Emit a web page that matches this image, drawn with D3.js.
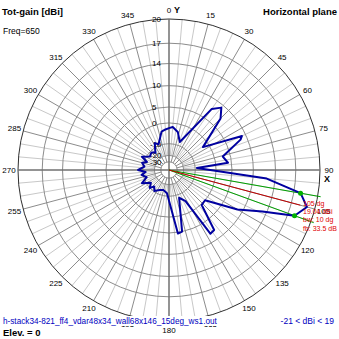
<!DOCTYPE html>
<html><head><meta charset="utf-8">
<script src="https://cdn.jsdelivr.net/npm/d3@7"></script>
<style>body{margin:0;background:#fff}svg{display:block;font-family:Arial,"Liberation Sans",sans-serif}</style>
</head><body><svg id="c" width="339" height="339"></svg>
<script>
// ---- data ----
const patternAngles = [0,5,13,21,35,40,45,56,65,67,76,83,86,95,100,105,110,114,120,130,137,143,147,152,160,168,172,178,185,195,205,215,222,227,235,244,252,260,265,270,278,285,290,296,305,315,322,332,338,349,355];
const patternGains  = [-2,-1.5,-3.2,-7.7,7.9,9.4,7.5,-2.4,9.2,8.6,2.8,4.0,-8.9,12.6,17.9,19.04,17.9,13.3,8.9,0,0.3,8,8.2,-5,-8,5,5.3,-5,-12,-14,-13,-10.5,-13,-10,-13,-7.7,-12,-9,-12,-7.2,-11,-9,-12,-7.7,-12,-11,-13,-7.5,-9,-3.2,-2.5];
const ringValues = [20,17,14,10,5,0,-10,-20,-30];
const angleTicks = d3.range(0,360,15);
const minorTicks = d3.range(0,360,5);
const maxDir = 105;
const bwDirs = [100,110];
const infoLines = ["105 dg","19.04 dBi","bw: 10 dg","fb: 33.5 dB"];
const titleLeft = "Tot-gain [dBi]", freqText = "Freq=650", titleRight = "Horizontal plane";
const fileText = "h-stack34-821_ff4_vdar48x34_wall68x146_15deg_ws1.out";
const rangeText = "-21 < dBi < 19", elevText = "Elev. = 0";

// ---- layout ----
const cx = 169, cy = 170, R = 151;
const lin = d3.scaleLinear().domain([0,1]).range([0,R]);
const r = dB => lin(Math.pow(0.89,(20-dB)/2));   // ARRL log scale
const rad = d => d*Math.PI/180;

const svg = d3.select("#c");
const g = svg.append("g").attr("transform",`translate(${cx},${cy})`);

// minor radials
g.selectAll("line.minor").data(minorTicks.filter(a=>a%15!==0)).join("line")
  .attr("x1",a=>r(-20)*Math.sin(rad(a))).attr("y1",a=>-r(-20)*Math.cos(rad(a)))
  .attr("x2",a=>R*Math.sin(rad(a))).attr("y2",a=>-R*Math.cos(rad(a)))
  .attr("stroke","#c8c8c8").attr("stroke-width",1);
// major radials
g.selectAll("line.major").data(angleTicks.filter(a=>a%90!==0)).join("line")
  .attr("x1",a=>r(-30)*Math.sin(rad(a))).attr("y1",a=>-r(-30)*Math.cos(rad(a)))
  .attr("x2",a=>R*Math.sin(rad(a))).attr("y2",a=>-R*Math.cos(rad(a)))
  .attr("stroke","#8c8c8c").attr("stroke-width",1);
// rings
g.selectAll("circle.ring").data(ringValues).join("circle")
  .attr("r",d=>r(d)).attr("fill","none")
  .attr("stroke",d=>d===20?"#303030":"#8c8c8c").attr("stroke-width",1);
// axes
g.append("line").attr("x1",-R).attr("x2",R).attr("y1",0).attr("y2",0).attr("stroke","#707070").attr("stroke-width",1.5);
g.append("line").attr("y1",-R).attr("y2",R).attr("x1",0).attr("x2",0).attr("stroke","#707070").attr("stroke-width",1.5);

// ring labels
g.selectAll("text.rl").data(ringValues).join("text")
  .attr("x",d=>d<0?-19:-17).attr("y",d=>-r(d)).attr("dy","0.35em")
  .attr("font-size",8).attr("fill","#000").text(d=>d);

// angle labels
g.selectAll("text.al").data(angleTicks).join("text")
  .attr("x",a=>160*Math.sin(rad(a))).attr("y",a=>-160*Math.cos(rad(a)))
  .attr("dy","0.35em").attr("text-anchor","middle").attr("font-size",8).text(a=>a);
g.append("text").attr("x",5).attr("y",-160).attr("dy","0.35em").attr("font-size",9).attr("font-weight","bold").text("Y");
g.append("text").attr("x",158).attr("y",9).attr("dy","0.35em").attr("text-anchor","middle").attr("font-size",9).attr("font-weight","bold").text("X");

// beamwidth / max lines
g.selectAll("line.bw").data(bwDirs).join("line")
  .attr("x1",0).attr("y1",0)
  .attr("x2",a=>154*Math.sin(rad(a))).attr("y2",a=>-154*Math.cos(rad(a)))
  .attr("stroke","#00a000").attr("stroke-width",1);
g.append("line").attr("x1",0).attr("y1",0)
  .attr("x2",136*Math.sin(rad(maxDir))).attr("y2",-136*Math.cos(rad(maxDir)))
  .attr("stroke","#c00000").attr("stroke-width",1);

// pattern
const pts = patternAngles.map((a,i)=>[rad(a), r(patternGains[i])]);
g.append("path").attr("d",d3.lineRadial().curve(d3.curveLinearClosed)(pts))
  .attr("fill","none").attr("stroke","#0000a0").attr("stroke-width",2).attr("stroke-linejoin","round");

// bw dots on trace
const gainAt = a => patternGains[patternAngles.indexOf(a)];
g.selectAll("circle.dot").data(bwDirs).join("circle")
  .attr("cx",a=>r(gainAt(a))*Math.sin(rad(a))).attr("cy",a=>-r(gainAt(a))*Math.cos(rad(a)))
  .attr("r",2.5).attr("fill","#00b000");

// info text
svg.selectAll("text.info").data(infoLines).join("text")
  .attr("x",303).attr("y",(d,i)=>206+i*8.2).attr("font-size",7).attr("fill","#e00000").text(d=>d);

// titles
svg.append("text").attr("x",2).attr("y",15).attr("font-size",9.5).attr("font-weight","bold").text(titleLeft);
svg.append("text").attr("x",3).attr("y",34).attr("font-size",8.5).text(freqText);
svg.append("text").attr("x",337).attr("y",15).attr("text-anchor","end").attr("font-size",9.5).attr("font-weight","bold").text(titleRight);
// bottom
svg.append("rect").attr("x",0).attr("y",316).attr("width",339).attr("height",10).attr("fill","#fff");
svg.append("text").attr("x",3).attr("y",324).attr("font-size",8.2).attr("fill","#0000c0").text(fileText);
svg.append("text").attr("x",334).attr("y",324).attr("text-anchor","end").attr("font-size",8.5).attr("fill","#0000c0").text(rangeText);
svg.append("text").attr("x",3).attr("y",336).attr("font-size",9.5).attr("font-weight","bold").text(elevText);
</script></body></html>
